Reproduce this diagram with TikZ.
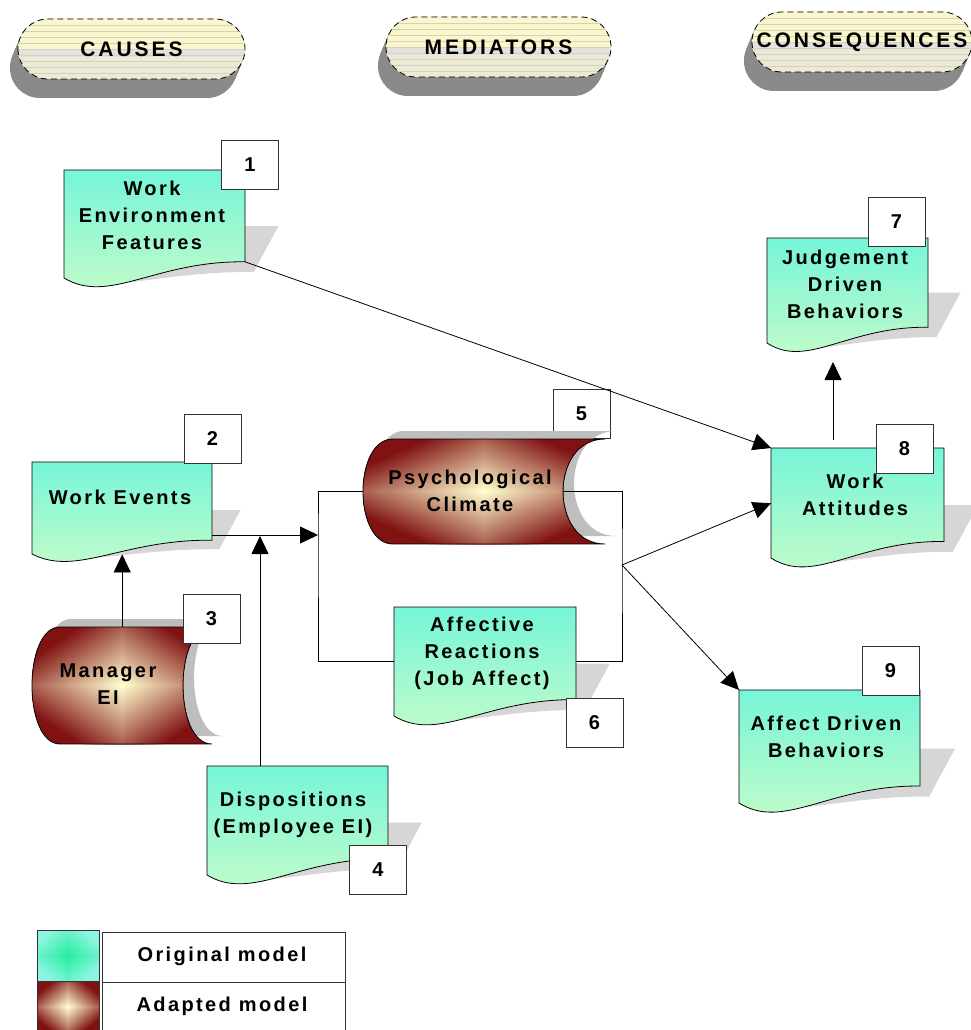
\documentclass[tikz,border=0pt]{standalone}
\usepackage{fontspec}
\setmainfont{Liberation Sans}
\newfontfamily\labfont{Liberation Sans}[LetterSpace=12]
\newfontfamily\headfont{Liberation Sans}[LetterSpace=14]
\usetikzlibrary{arrows.meta}

\definecolor{tealtop}{RGB}{118,245,216}
\definecolor{tealbot}{RGB}{200,252,200}
\definecolor{docshade}{RGB}{214,214,214}
\definecolor{scrollshade}{RGB}{190,190,190}
\definecolor{rcol}{RGB}{128,18,18}
\definecolor{ycol}{RGB}{255,252,205}
\definecolor{gcol}{RGB}{40,238,160}
\definecolor{acol}{RGB}{140,245,225}
\definecolor{pillshade}{RGB}{138,138,138}
\definecolor{pillyel}{RGB}{250,247,205}
\definecolor{pillband}{RGB}{226,226,222}
\definecolor{pilllow}{RGB}{236,234,212}
\definecolor{pillline}{RGB}{212,210,190}

\tikzset{
  lbl/.style={font=\labfont\bfseries\fontsize{20}{27}\selectfont, align=center, inner sep=0pt},
  headlbl/.style={font=\headfont\bfseries\fontsize{21}{25}\selectfont, inner sep=0pt},
  numbox/.style={draw=black!80, fill=white, line width=0.8pt, minimum width=57pt,
    minimum height=49pt, inner sep=0pt, font=\bfseries\fontsize{20}{24}\selectfont},
  legbox/.style={draw=black!80, fill=white, line width=0.8pt, minimum width=243pt,
    inner sep=0pt, font=\labfont\bfseries\fontsize{20}{24}\selectfont},
  conn/.style={line width=0.8pt, draw=black},
  arr/.style={conn, -{Triangle[length=18pt,width=17pt]}},
  docfill/.style={top color=tealtop, bottom color=tealbot, draw=black, line width=0.8pt},
  frame/.style={inner sep=0pt, anchor=north west},
}

% document shape: name, left, top, width, height
\newcommand{\docshape}[5]{%
  \begin{scope}[shift={(#2,#3)}]
    \fill[docshade] ({0.31*#5},{0.5*#5+2}) -- ({#4+0.31*#5},{0.5*#5+2})
      -- ({#4+0.0805*#5},{0.925*#5+2})
      .. controls ({0.5*#4+0.0832*#5},{0.92*#5+2}) and ({0.25*#4-0.0275*#5},{1.125*#5+2})
      .. ({0.04*#5},{#5+2}) -- cycle;
    \shadedraw[docfill] (0,0) -- (#4,0) -- (#4,{0.85*#5})
      .. controls ({0.5*#4},{0.84*#5}) and ({0.25*#4},{1.25*#5}) .. (0,#5) -- cycle;
    \node[frame, minimum width=#4, minimum height=#5] (#1) at (0,0) {};
    \coordinate (#1-wr) at (#4,{0.85*#5});
  \end{scope}}

% diamond gradient filling a box: width, height, outer colour, inner colour
\newcommand{\diamondfill}[4]{%
  \fill[#3] (0,0) rectangle (#1,#2);
  \foreach \k in {1,...,30}{
    \pgfmathsetmacro\dsz{1.5*(1-\k/31)}
    \pgfmathtruncatemacro\mixp{100*\k/30}
    \fill[#4!\mixp!#3] ({#1/2-\dsz*#1/2},{#2/2}) -- ({#1/2},{#2/2-\dsz*#2/2})
      -- ({#1/2+\dsz*#1/2},{#2/2}) -- ({#1/2},{#2/2+\dsz*#2/2}) -- cycle;
  }}

% stored-data shape: name, left, top, width, height, left bulge, right notch
\newcommand{\scrollshape}[7]{%
  \begin{scope}[shift={(#2,#3)}]
    \begin{scope}[shift={(11,-8)}]
      \fill[scrollshade] (#6,0) -- (#4,0)
        .. controls ({#4-1.333*#7},0) and ({#4-1.333*#7},#5) .. (#4,#5)
        -- (#6,#5) .. controls ({-#6/3},#5) and ({-#6/3},0) .. (#6,0) -- cycle;
    \end{scope}
    \begin{scope}
      \clip (#6,0) -- (#4,0)
        .. controls ({#4-1.333*#7},0) and ({#4-1.333*#7},#5) .. (#4,#5)
        -- (#6,#5) .. controls ({-#6/3},#5) and ({-#6/3},0) .. (#6,0) -- cycle;
      \diamondfill{#4}{#5}{rcol}{ycol}
    \end{scope}
    \draw[line width=0.8pt] (#6,0) -- (#4,0)
      .. controls ({#4-1.333*#7},0) and ({#4-1.333*#7},#5) .. (#4,#5)
      -- (#6,#5) .. controls ({-#6/3},#5) and ({-#6/3},0) .. (#6,0) -- cycle;
    \node[frame, minimum width=#4, minimum height=#5] (#1) at (0,0) {};
    \coordinate (#1-l) at (0,{#5/2});
    \coordinate (#1-r) at ({#4-#7},{#5/2});
  \end{scope}}

% extruded header pill: name, left, top, width, height, text
\newcommand{\pillshape}[6]{%
  \begin{scope}[shift={(#2,#3)}]
    \foreach \k in {0,...,20}{
      \fill[pillshade, rounded corners=29.9pt, shift={({-8*\k/20},{19*\k/20})}] (0,0) rectangle (#4,#5);
    }
    \begin{scope}
      \clip[rounded corners=29.9pt] (0,0) rectangle (#4,#5);
      \fill[pillyel] (0,0) rectangle (#4,#5);
      \fill[pillband] (0,{0.52*#5}) rectangle (#4,{0.64*#5});
      \fill[pilllow] (0,{0.64*#5}) rectangle (#4,#5);
      \foreach \yy in {6,12,...,54} \draw[pillline, line width=0.5pt] (0,\yy) -- (#4,\yy);
    \end{scope}
    \draw[line width=0.8pt, dash pattern=on 6pt off 4pt, rounded corners=29.9pt] (0,0) rectangle (#4,#5);
    \node[headlbl] (#1) at ({#4/2},{#5/2}) {#6};
  \end{scope}}

\begin{document}
\begin{tikzpicture}[x=1pt,y=-1pt]
  \useasboundingbox (0,0) rectangle (971,1030);
  \fill[white] (0,0) rectangle (971,1030);

  % column headers
  \pillshape{hc}{18}{19}{227}{60}{CAUSES}
  \pillshape{hm}{386}{17}{225}{60}{MEDIATORS}
  \pillshape{hq}{752}{12}{220}{60}{CONSEQUENCES}

  % label 5 sits behind its shape
  \node[numbox] (n5) at (581.5,413.5) {5};

  % shapes
  \docshape{d1}{64}{170}{181}{108}
  \docshape{d2}{32}{462}{180}{92}
  \docshape{d4}{207}{766}{181}{109}
  \docshape{d6}{394}{607}{182}{109}
  \docshape{d7}{767}{238}{161}{105}
  \docshape{d8}{771}{448}{173}{110}
  \docshape{d9}{739}{690}{181}{113}
  \scrollshape{me}{32}{627}{180}{117}{28}{29}
  \scrollshape{pc}{363}{439}{242}{105}{30}{42}

  % texts
  \node[lbl] (t1) at (152,215) {Work\\Environment\\Features};
  \node[lbl] (t2) at (120,497) {Work Events};
  \node[lbl] (t3) at (108,684) {Manager\\EI};
  \node[lbl] (t4) at (293,815) {Dispositions\\(Employee EI)};
  \node[lbl] (t5) at (470,491) {Psychological\\Climate};
  \node[lbl] (t6) at (482,653) {Affective\\Reactions\\(Job Affect)};
  \node[lbl] (t7) at (845,284) {Judgement\\Driven\\Behaviors};
  \node[lbl] (t8) at (855,495) {Work\\Attitudes};
  \node[lbl] (t9) at (826,737) {Affect Driven\\Behaviors};

  % junction points
  \coordinate (bl) at (318,535);
  \coordinate (m4) at (260,536);
  \coordinate (fan) at (622,565);
  \coordinate (u8) at (833,440);
  \coordinate (u7) at (833,362);

  % connectors
  \draw[arr] (d1-wr) -- (d8.north west);
  \draw[arr] (d2.east |- bl) -- (bl);
  \draw[arr] (m4 |- d4.north) -- (m4);
  \draw[arr] (me.north) -- (d2.south);
  \draw[conn] (pc-l) -| (bl) |- (d6.west);
  \draw[conn] (pc-r) -| (fan) |- (d6.east);
  \draw[arr] (fan) -- (d8.west);
  \draw[arr] (fan) -- (d9.north west);
  \draw[arr] (u8) -- (u7);

  % number labels
  \node[numbox] (n1) at (250,164.5) {1};
  \node[numbox] (n2) at (212.5,438.5) {2};
  \node[numbox] (n3) at (211.5,619) {3};
  \node[numbox] (n4) at (378,870) {4};
  \node[numbox] (n6) at (594.5,722.5) {6};
  \node[numbox] (n7) at (896.5,221.5) {7};
  \node[numbox] (n8) at (904.5,448.5) {8};
  \node[numbox] (n9) at (890.5,670.5) {9};

  % legend
  \begin{scope}[shift={(37,930)}]
    \clip (0,0) rectangle (62,51);
    \diamondfill{62}{51}{acol}{gcol}
  \end{scope}
  \begin{scope}[shift={(37,981)}]
    \clip (0,0) rectangle (62,52);
    \diamondfill{62}{52}{rcol}{ycol}
  \end{scope}
  \node[frame, draw=black!80, line width=0.8pt, minimum width=62, minimum height=51] (lg1) at (37,930) {};
  \node[frame, draw=black!80, line width=0.8pt, minimum width=62, minimum height=52] (lg2) at (37,981) {};
  \node[legbox, frame, minimum height=50] (lt1) at (102,932) {};
  \node[legbox, frame, minimum height=55] (lt2) at (102,982) {};
  \node[lbl, font=\labfont\bfseries\fontsize{20}{24}\selectfont] (lx1) at (222,956) {Original model};
  \node[lbl, font=\labfont\bfseries\fontsize{20}{24}\selectfont] (lx2) at (222,1006) {Adapted model};
\end{tikzpicture}
\end{document}
